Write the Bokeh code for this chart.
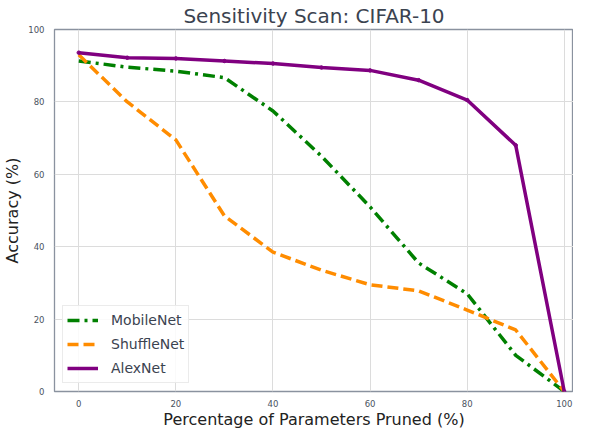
from bokeh.plotting import figure
from bokeh.embed import file_html
from bokeh.resources import INLINE
from bokeh.models import Range1d, FixedTicker, Legend, LegendItem

pruned = [0, 10, 20, 30, 40, 50, 60, 70, 80, 90, 100]
mobilenet = [91.3, 89.6, 88.5, 86.7, 77.5, 65.0, 51.0, 35.5, 27.0, 10.0, 0.0]
shufflenet = [93.0, 80.0, 69.5, 48.5, 38.5, 33.5, 29.5, 27.8, 22.5, 17.0, 0.0]
alexnet = [93.6, 92.2, 92.0, 91.3, 90.6, 89.5, 88.7, 86.0, 80.5, 68.0, 0.0]
x_ticks = [0, 20, 40, 60, 80, 100]
y_ticks = [0, 20, 40, 60, 80, 100]

FONT = "DejaVu Sans"
TXT = "#3b4350"

p = figure(width=573, height=431, output_backend="svg", toolbar_location=None,
           x_range=Range1d(-5, 101.9), y_range=Range1d(0, 100),
           min_border_left=52, min_border_right=0, min_border_top=21, min_border_bottom=10)

p.title.text = "Sensitivity Scan: CIFAR-10"
p.title.align = "center"
p.title.text_font = FONT
p.title.text_font_size = "20px"
p.title.text_font_style = "normal"
p.title.text_color = TXT
p.title.text_line_height = 1.0
p.title.offset = 0
p.title.standoff = 3

p.outline_line_color = "#8a929f"
p.outline_line_width = 1.3

for ax in (p.xaxis, p.yaxis):
    ax.axis_line_color = None
    ax.major_tick_line_color = None
    ax.minor_tick_line_color = None
    ax.major_tick_out = 0
    ax.major_tick_in = 0
    ax.major_label_text_font = FONT
    ax.major_label_text_font_size = "8.5px"
    ax.major_label_text_color = "#4a5260"
    ax.major_label_text_line_height = 1.0
    ax.axis_label_text_font = FONT
    ax.axis_label_text_font_size = "16px"
    ax.axis_label_text_font_style = "normal"
    ax.axis_label_text_color = "#222222"
    ax.axis_label_text_line_height = 1.0

p.xaxis.ticker = FixedTicker(ticks=x_ticks)
p.yaxis.ticker = FixedTicker(ticks=y_ticks)
p.xaxis.axis_label = "Percentage of Parameters Pruned (%)"
p.yaxis.axis_label = "Accuracy (%)"
p.xaxis.major_label_standoff = 8
p.xaxis.axis_label_standoff = 0
p.yaxis.major_label_standoff = 10
p.yaxis.axis_label_standoff = 3

p.xgrid.grid_line_color = "#dcdcdc"
p.ygrid.grid_line_color = "#dcdcdc"
p.xgrid.grid_line_width = 1
p.ygrid.grid_line_width = 1

lw = 3.5
r1 = p.line(pruned, mobilenet, color="#008000", line_width=lw, line_dash="12 5 3 5")
r2 = p.line(pruned, shufflenet, color="#ff8c00", line_width=lw, line_dash="11 5")
r3 = p.line(pruned, alexnet, color="#800080", line_width=lw)
r3m = p.scatter(pruned, alexnet, color="#800080", size=3.5)

legend = Legend(items=[
    LegendItem(label="MobileNet", renderers=[r1]),
    LegendItem(label="ShuffleNet", renderers=[r2]),
    LegendItem(label="AlexNet", renderers=[r3]),
], location="bottom_left")
legend.label_text_font = FONT
legend.label_text_font_size = "14px"
legend.label_text_color = TXT
legend.border_line_color = "#d8d8d8"
legend.border_line_width = 1
legend.background_fill_alpha = 0.85
legend.glyph_width = 31
legend.glyph_height = 20
legend.label_height = 20
legend.label_standoff = 13
legend.spacing = 4
legend.padding = 4
legend.margin = 8
p.add_layout(legend)

open("out.html", "w").write(file_html(p, INLINE))
